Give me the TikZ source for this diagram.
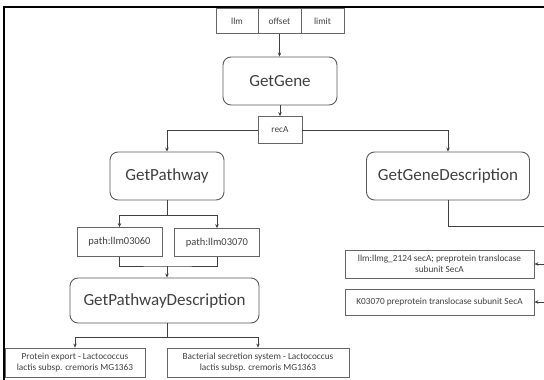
\documentclass[tikz,border=0pt]{standalone}
\usepackage{fontspec}
\setmainfont{Carlito}
\usetikzlibrary{arrows.meta}
\begin{document}
\begin{tikzpicture}[x=1pt,y=-1pt,
  fn/.style={draw=black!65, line width=0.9pt, rounded corners=8pt, inner sep=0pt,
    font=\fontsize{17}{20}\selectfont, text=black!75},
  db/.style={draw=black!60, line width=0.8pt, inner sep=0pt, align=center,
    font=\fontsize{9.3}{10.5}\selectfont, text=black!75},
  con/.style={draw=black!75, line width=0.7pt},
  arr/.style={con, -{Stealth[length=4pt,width=3.5pt]}}]
\useasboundingbox (0,0) rectangle (544,380);
\draw[line width=1.2pt] (4,380) -- (4,7) -- (544,7);
% top parameter cells
\node[db, minimum width=42pt, minimum height=25pt] (t1) at (237,21) {llm};
\node[db, minimum width=43pt, minimum height=25pt] (t2) at (279.5,21) {offset};
\node[db, minimum width=43pt, minimum height=25pt] (t3) at (322.5,21) {limit};
% functions
\node[fn, minimum width=114pt, minimum height=48pt] (gene) at (280,81) {GetGene};
\node[db, minimum width=44pt, minimum height=27pt] (reca) at (280,130) {recA};
\node[fn, minimum width=114pt, minimum height=48pt] (gp) at (167,176) {GetPathway};
\node[fn, minimum width=163pt, minimum height=48pt] (ggd) at (448,176) {GetGeneDescription};
\node[db, minimum width=85pt, minimum height=29pt, font=\fontsize{10.5}{11}\selectfont] (p1) at (119.5,242) {path:llm03060};
\node[db, minimum width=85pt, minimum height=28pt, font=\fontsize{10.5}{11}\selectfont] (p2) at (217,242.5) {path:llm03070};
\node[fn, minimum width=189pt, minimum height=45pt] (gpd) at (164.5,300.5) {GetPathwayDescription};
\node[db, minimum width=140pt, minimum height=29pt] (b1) at (75,362.5) {Protein export - Lactococcus\\lactis subsp. cremoris MG1363};
\node[db, minimum width=182pt, minimum height=29pt] (b2) at (258,362.5) {Bacterial secretion system - Lactococcus\\lactis subsp. cremoris MG1363};
\node[db, minimum width=189pt, minimum height=28pt] (r1) at (439.5,264) {llm:llmg\_2124 secA; preprotein translocase\\subunit SecA};
\node[db, minimum width=189pt, minimum height=26pt] (r2) at (439.5,302) {K03070 preprotein translocase subunit SecA};
% junctions
\coordinate (s1) at (167,215);
\coordinate (j1) at (167,266);
\coordinate (j2) at (167,337);
\coordinate (re) at (544,226);
\coordinate (r1in) at (544,264);
\coordinate (r2in) at (544,302);
% connectors
\draw[arr] (t2.south) -- (t2.south |- gene.north);
\draw[arr] (gene.south) -- (reca.north);
\draw[arr] (reca.west) -| (gp.north);
\draw[arr] (reca.east) -| (ggd.north);
\draw[con] (gp.south) -- (s1);
\draw[arr] (s1) -| (p1.north);
\draw[arr] (s1) -| (p2.north);
\draw[con] (p1.south) |- (j1) -| (p2.south);
\draw[arr] (j1) -- (j1 |- gpd.north);
\draw[con] (j2 |- gpd.south) -- (j2);
\draw[arr] (j2) -| (b1.north);
\draw[arr] (j2) -| (b2.north);
\draw[con] (ggd.south) |- (re);
\draw[arr] (r1in) -- (r1.east);
\draw[arr] (r2in) -- (r2.east);
\end{tikzpicture}
\end{document}
